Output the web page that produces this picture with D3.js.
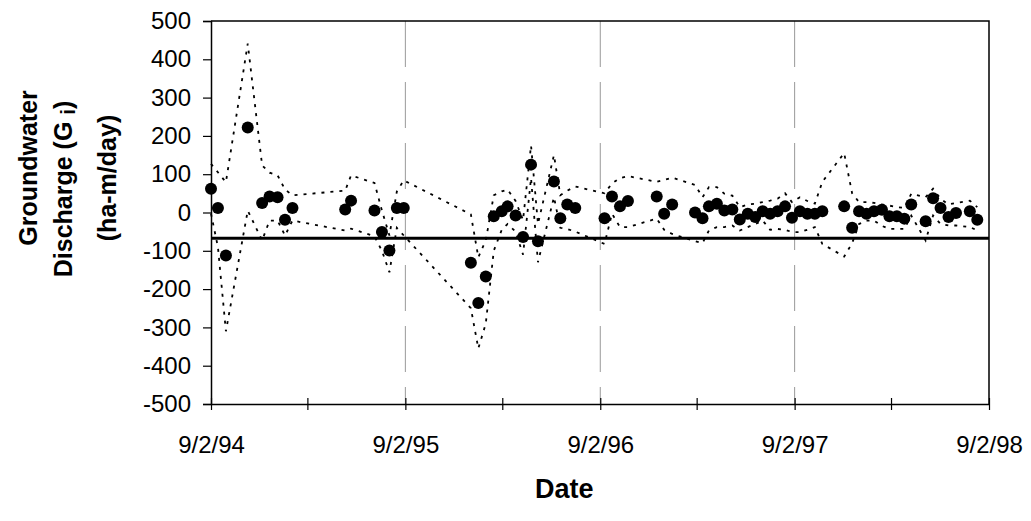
<!DOCTYPE html>
<html><head><meta charset="utf-8">
<script src="https://cdn.jsdelivr.net/npm/d3@7"></script>
<style>
html,body{margin:0;padding:0;background:#fff;}
text{font-family:"Liberation Sans",Arial,sans-serif;fill:#000;}
</style></head>
<body><svg id="chart" width="1031" height="521"></svg>
<script>
// ---- data ----
const dates = ["1994-09-02","1994-09-15","1994-09-30","1994-11-10","1994-12-07","1994-12-21","1995-01-05","1995-01-19","1995-02-02",
"1995-05-12","1995-05-23","1995-07-06","1995-07-20","1995-08-03","1995-08-17","1995-08-30",
"1996-01-03","1996-01-17","1996-01-31","1996-02-15","1996-03-01","1996-03-12","1996-03-27","1996-04-10","1996-04-25","1996-05-08",
"1996-06-07","1996-06-19","1996-07-02","1996-07-17","1996-09-10","1996-09-24","1996-10-09","1996-10-24","1996-12-17","1996-12-31",
"1997-01-15","1997-02-27","1997-03-13","1997-03-25","1997-04-09","1997-04-23","1997-05-08","1997-05-22","1997-06-06","1997-06-20",
"1997-07-04","1997-07-18","1997-08-01","1997-08-15","1997-08-28","1997-09-12","1997-09-26","1997-10-10","1997-10-24","1997-12-04",
"1997-12-19","1998-01-01","1998-01-15","1998-01-29","1998-02-13","1998-02-27","1998-03-13","1998-03-27","1998-04-09","1998-05-06",
"1998-05-20","1998-06-03","1998-06-18","1998-07-02","1998-07-28","1998-08-11"];
const discharge = [62,12,-112,222,25,42,40,-19,12,
8,31,5,-51,-99,12,12,
-131,-236,-167,-10,3,16,-8,-64,125,-75,
81,-15,21,12,-15,42,16,30,42,-3,
21,0,-15,16,23,5,8,-18,-3,-12,
3,-3,3,16,-14,3,-3,-3,3,16,
-40,3,-3,3,7,-10,-10,-16,21,-23,
37,12,-12,-1,3,-19];
const upper = [127,105,79,441,123,104,97,60,45,
57,97,77,5,-60,55,84,
-5,-117,-73,45,55,60,30,-20,175,-30,
150,45,57,68,50,76,90,95,80,85,
91,72,40,66,66,49,44,14,21,23,
27,31,36,50,27,40,30,23,80,155,
50,27,27,25,21,18,14,12,49,40,
62,36,21,25,31,14];
const lower = [-3,-90,-310,5,-73,-21,-21,-60,-21,
-47,-42,-62,-100,-156,-40,-60,
-250,-355,-290,-100,-45,-30,-50,-110,90,-130,
40,-40,-43,-50,-82,-3,-38,-38,-16,-45,
-56,-75,-80,-47,-38,-38,-34,-47,-38,-30,
-21,-45,-43,-45,-51,-51,-45,-38,-82,-115,
-80,-30,-21,-21,-35,-43,-43,-43,-8,-73,
-8,-30,-34,-34,-38,-47];
const referenceLevel = -67;
const xTickDates = ["1994-09-02","1995-03-02","1995-09-02","1996-03-02","1996-09-02","1997-03-02","1997-09-02","1998-03-02","1998-09-02"];
const xGridDates = ["1995-09-02","1996-09-02","1997-09-02"];
const yTicks = [-500,-400,-300,-200,-100,0,100,200,300,400,500];
const xDomain = ["1994-09-02","1998-09-02"];
const yDomain = [-500,500];

// ---- layout ----
const parse = d3.utcParse("%Y-%m-%d");
const L = 211, R = 989, T = 21, B = 404;
const svg = d3.select("#chart");
const x = d3.scaleUtc().domain(xDomain.map(parse)).range([L, R]);
const y = d3.scaleLinear().domain(yDomain).range([B, T]);

const rows = dates.map((d,i)=>({t:parse(d), v:discharge[i], u:upper[i], l:lower[i]}));

// vertical gridlines
svg.append("g").selectAll("line").data(xGridDates.map(parse)).join("line")
  .attr("x1", d=>x(d)).attr("x2", d=>x(d)).attr("y1", T).attr("y2", B)
  .attr("stroke", "#999").attr("stroke-width", 1).attr("stroke-dasharray", "46,15");

// frame (top/right)
svg.append("path").attr("d", `M${L},${T}H${R}V${B}`).attr("fill","none").attr("stroke","#000").attr("stroke-width",1.5);

// bound lines
const line = key => d3.line().x(d=>x(d.t)).y(d=>y(d[key]));
["u","l"].forEach(k=>{
  svg.append("path").datum(rows).attr("d", line(k)).attr("fill","none")
    .attr("stroke","#000").attr("stroke-width",1.8).attr("stroke-dasharray","3,6");
});

// reference line
svg.append("line").attr("x1", L).attr("x2", R).attr("y1", y(referenceLevel)).attr("y2", y(referenceLevel))
  .attr("stroke","#000").attr("stroke-width",3);

// points
svg.append("g").selectAll("circle").data(rows).join("circle")
  .attr("cx", d=>x(d.t)).attr("cy", d=>y(d.v)).attr("r", 6).attr("fill","#000");

// y axis
const yAxis = svg.append("g").attr("transform", `translate(${L},0)`)
  .call(d3.axisLeft(y).tickValues(yTicks).tickSize(8).tickPadding(12).tickFormat(d => String(d)));
yAxis.select(".domain").attr("stroke","#000").attr("stroke-width",1.5);
yAxis.selectAll(".tick line").attr("stroke","#000").attr("stroke-width",1.2);
yAxis.selectAll("text").style("font-size","24px");

// x axis
const fmt = d3.utcFormat("%-m/%-d/%y");
const xAxis = svg.append("g").attr("transform", `translate(0,${B})`)
  .call(d3.axisBottom(x).tickValues(xTickDates.map(parse)).tickSizeInner(6).tickSizeOuter(0).tickPadding(26)
    .tickFormat(d => d.getUTCMonth()===8 ? fmt(d) : ""));
xAxis.select(".domain").attr("stroke","#000").attr("stroke-width",1.5);
xAxis.selectAll(".tick line").attr("stroke","#000").attr("stroke-width",1.2).attr("y1",-6);
xAxis.selectAll("text").style("font-size","24px");

// titles
svg.append("text").attr("x", x(parse("1996-09-02")) - 36).attr("y", 498).attr("text-anchor","middle")
  .style("font-size","27px").style("font-weight","bold").text("Date");

const yt = [
  {cx:37, cy:168, parts:[["Groundwater",false]]},
  {cx:72, cy:189, parts:[["Discharge (G ",false],["i",true],[")",false]]},
  {cx:116, cy:178, parts:[["(ha-m/day)",false]]}
];
yt.forEach(o=>{
  const t = svg.append("text").attr("transform",`translate(${o.cx},${o.cy}) rotate(-90)`)
    .attr("text-anchor","middle").style("font-size","25px").style("font-weight","bold");
  o.parts.forEach(([s,sub])=>{
    const ts = t.append("tspan").text(s);
    if(sub){ ts.style("font-size","20px").attr("dy", 3); }
    else if(s===")"){ ts.attr("dy",-3); }
  });
});
</script></body></html>
